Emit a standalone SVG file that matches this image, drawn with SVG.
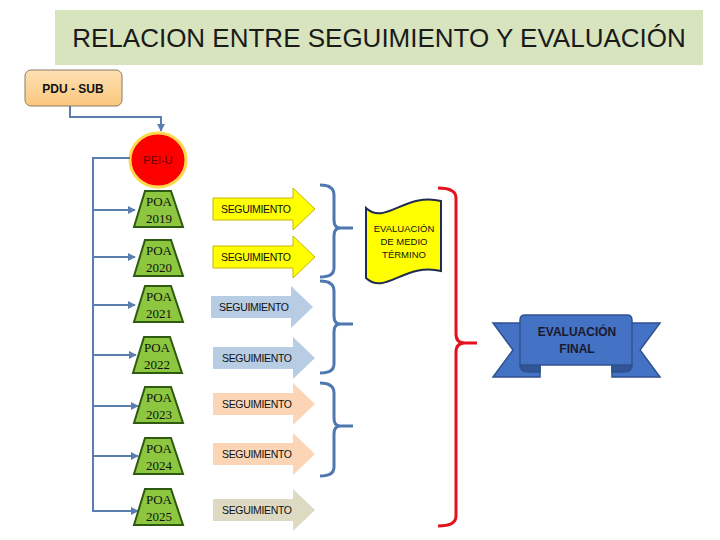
<svg xmlns="http://www.w3.org/2000/svg" width="720" height="540" viewBox="0 0 720 540">
<defs>
<style>
.poa{fill:#8dc63f;stroke:#2f5a12;stroke-width:2}
.poat{font-family:"Liberation Serif",serif;font-size:13px;fill:#111;text-anchor:middle}
.seg{font-family:"Liberation Sans",sans-serif;font-size:10.5px;fill:#111;text-anchor:middle}
.conn{fill:none;stroke:#5a7fae;stroke-width:2}
.brace{fill:none;stroke:#4f78b0;stroke-width:3;stroke-linejoin:round}
.rbrace{fill:none;stroke:#e3121c;stroke-width:3;stroke-linejoin:round}
.lbl{font-family:"Liberation Sans",sans-serif;fill:#111;text-anchor:middle}
</style>
<path id="arr" d="M0,-11 L80,-11 L80,-21 L102,0 L80,21 L80,11 L0,11 Z"/>
<path id="trap" d="M-13,0 L13,0 L25,36 L-24,36 Z"/>
<marker id="ah" viewBox="0 0 10 10" refX="9" refY="5" markerWidth="4" markerHeight="4" orient="auto">
<path d="M0,0 L10,5 L0,10 Z" fill="#5a7fae"/>
</marker>
<linearGradient id="pdu" x1="0" y1="0" x2="0" y2="1">
<stop offset="0" stop-color="#fde0b3"/>
<stop offset="1" stop-color="#fbc77d"/>
</linearGradient>
</defs>

<g id="title">
<rect x="55" y="10" width="648" height="55" fill="#d7e4bd"/>
<text x="379" y="47" font-family="Liberation Sans, sans-serif" font-size="26" fill="#1a1a1a" text-anchor="middle">RELACION ENTRE SEGUIMIENTO Y EVALUACIÓN</text>
</g>

<g id="pdu-sub">
<rect x="25" y="70" width="97" height="36" rx="6" fill="url(#pdu)" stroke="#8a7a66" stroke-width="1"/>
<text x="73" y="93" class="lbl" font-size="12" font-weight="bold">PDU - SUB</text>
</g>

<g id="pei-u">
<ellipse cx="158" cy="160" rx="28" ry="27" fill="#ff0000" stroke="#ffd84d" stroke-width="3"/>
<text x="158" y="164" class="lbl" font-size="11" style="fill:#6b0000">PEI-U</text>
</g>

<g id="connectors">
<path class="conn" d="M70,106 L70,117 L161,117 L161,131" marker-end="url(#ah)"/>
<path class="conn" d="M130,158 L93,158 L93,512"/>
<path class="conn" d="M93,210 L135,210" marker-end="url(#ah)"/>
<path class="conn" d="M93,257 L135,257" marker-end="url(#ah)"/>
<path class="conn" d="M93,305 L135,305" marker-end="url(#ah)"/>
<path class="conn" d="M93,355 L136,355" marker-end="url(#ah)"/>
<path class="conn" d="M93,406 L138,406" marker-end="url(#ah)"/>
<path class="conn" d="M93,456 L138,456" marker-end="url(#ah)"/>
<path class="conn" d="M93,511 L138,511" marker-end="url(#ah)"/>
<path class="brace" d="M320,185 Q334,185 334,195 L334,220 Q334,228 340,228 L353,228 M340,228 Q334,228 334,236 L334,268 Q334,277 320,277"/>
<path class="brace" d="M320,281 Q334,281 334,291 L334,316 Q334,324 340,324 L353,324 M340,324 Q334,324 334,332 L334,364 Q334,373 320,373"/>
<path class="brace" d="M320,383 Q334,383 334,393 L334,418 Q334,426 340,426 L353,426 M340,426 Q334,426 334,434 L334,467 Q334,476 320,476"/>
<path class="rbrace" d="M438,188 Q456,188 456,198 L456,334 Q456,343 465,343 L477,343 M465,343 Q456,343 456,352 L456,516 Q456,526 438,526"/>
</g>

<g id="poa-2019"><use href="#trap" class="poa" x="158" y="191"/><text class="poat" x="159" y="206">POA</text><text class="poat" x="159" y="223">2019</text></g>
<g id="poa-2020"><use href="#trap" class="poa" x="158" y="240"/><text class="poat" x="159" y="255">POA</text><text class="poat" x="159" y="272">2020</text></g>
<g id="poa-2021"><use href="#trap" class="poa" x="158" y="286"/><text class="poat" x="159" y="301">POA</text><text class="poat" x="159" y="318">2021</text></g>
<g id="poa-2022"><use href="#trap" class="poa" x="157" y="337"/><text class="poat" x="157" y="352">POA</text><text class="poat" x="157" y="369">2022</text></g>
<g id="poa-2023"><use href="#trap" class="poa" x="158" y="387"/><text class="poat" x="159" y="402">POA</text><text class="poat" x="159" y="419">2023</text></g>
<g id="poa-2024"><use href="#trap" class="poa" x="158" y="438"/><text class="poat" x="159" y="453">POA</text><text class="poat" x="159" y="470">2024</text></g>
<g id="poa-2025"><use href="#trap" class="poa" x="158" y="489"/><text class="poat" x="159" y="504">POA</text><text class="poat" x="159" y="521">2025</text></g>

<g id="seg-2019"><use href="#arr" x="213" y="209" fill="#ffff00" stroke="#c9b400" stroke-width="1"/><text class="seg" x="256" y="213" textLength="70">SEGUIMIENTO</text></g>
<g id="seg-2020"><use href="#arr" x="213" y="257" fill="#ffff00" stroke="#c9b400" stroke-width="1"/><text class="seg" x="256" y="261" textLength="70">SEGUIMIENTO</text></g>
<g id="seg-2021"><use href="#arr" x="211" y="307" fill="#b8cce4"/><text class="seg" x="254" y="311" textLength="70">SEGUIMIENTO</text></g>
<g id="seg-2022"><use href="#arr" x="213" y="358" fill="#b8cce4"/><text class="seg" x="257" y="362" textLength="70">SEGUIMIENTO</text></g>
<g id="seg-2023"><use href="#arr" x="213" y="404" fill="#fbd5b5"/><text class="seg" x="257" y="408" textLength="70">SEGUIMIENTO</text></g>
<g id="seg-2024"><use href="#arr" x="213" y="454" fill="#fbd5b5"/><text class="seg" x="257" y="458" textLength="70">SEGUIMIENTO</text></g>
<g id="seg-2025"><use href="#arr" x="213" y="510" fill="#ddd9c3"/><text class="seg" x="257" y="514" textLength="70">SEGUIMIENTO</text></g>

<g id="eval-medio">
<path d="M366,208 C385,226 405,192 441,201 L441,271 C405,262 385,296 366,278 Z" fill="#ffff00" stroke="#1f2d50" stroke-width="2"/>
<text class="lbl" x="404" y="232" font-size="9.5">EVALUACIÓN</text>
<text class="lbl" x="404" y="245" font-size="9.5">DE MEDIO</text>
<text class="lbl" x="404" y="258" font-size="9.5">TÉRMINO</text>
</g>

<g id="eval-final">
<path d="M493,323 L540,323 L540,377 L493,377 L513,350 Z" fill="#4472c4" stroke="#2f528f" stroke-width="1.5"/>
<path d="M660,323 L612,323 L612,377 L660,377 L640,350 Z" fill="#4472c4" stroke="#2f528f" stroke-width="1.5"/>
<path d="M520,365 Q520,372 528,372 L540,372 L540,365 Z" fill="#2f5597" stroke="#2f528f" stroke-width="1.5"/>
<path d="M632,365 Q632,372 624,372 L612,372 L612,365 Z" fill="#2f5597" stroke="#2f528f" stroke-width="1.5"/>
<path d="M520,320 Q520,315 525,315 L627,315 Q632,315 632,320 L632,365 L520,365 Z" fill="#4472c4" stroke="#2f528f" stroke-width="1.5"/>
<text class="lbl" x="577" y="336" font-size="12" font-weight="bold" style="fill:#1a1a2e">EVALUACIÓN</text>
<text class="lbl" x="577" y="353" font-size="12" font-weight="bold" style="fill:#1a1a2e">FINAL</text>
</g>
</svg>
